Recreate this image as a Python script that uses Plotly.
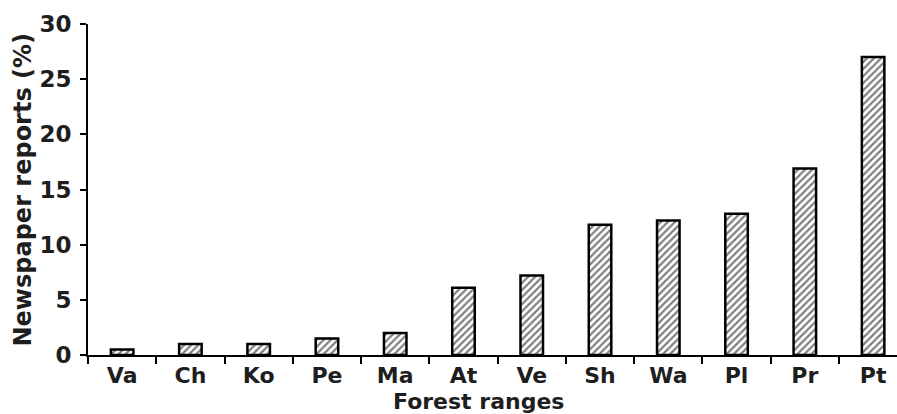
import plotly.graph_objects as go

categories = ["Va", "Ch", "Ko", "Pe", "Ma", "At", "Ve", "Sh", "Wa", "Pl", "Pr", "Pt"]
reports_pct = [0.5, 1.0, 1.0, 1.5, 2.0, 6.1, 7.2, 11.8, 12.2, 12.8, 16.9, 27.0]
y_ticks = [0, 5, 10, 15, 20, 25, 30]

FONT = "DejaVu Sans"
TXT = "#1e1e1e"
W, H = 897, 414
L, R, T, B = 88, 0, 24, 59

fig = go.Figure(go.Bar(
    x=categories, y=reports_pct, width=0.33,
    marker=dict(color="white",
                line=dict(color="black", width=2.5),
                pattern=dict(shape="/", fgcolor="black", bgcolor="white",
                             size=5, solidity=0.45)),
))

fig.update_layout(
    width=W, height=H,
    margin=dict(l=L, r=R, t=T, b=B, autoexpand=False),
    plot_bgcolor="white", paper_bgcolor="white",
    showlegend=False,
    font=dict(family=FONT, color=TXT, size=22, weight="bold"),
    xaxis=dict(range=[-0.5, 11.35], showline=True, linecolor="black", linewidth=2,
               ticks="outside", tickson="boundaries", ticklen=7, tickwidth=1.5,
               tickcolor="black", showgrid=False, zeroline=False,
               tickfont=dict(family=FONT, size=22, weight="bold", color=TXT),
               ticklabelstandoff=0),
    yaxis=dict(range=[0, 30], tickvals=y_ticks, showline=True, linecolor="black",
               linewidth=2, ticks="outside", ticklen=6, tickwidth=1.5, tickcolor="black",
               showgrid=False, zeroline=False,
               tickfont=dict(family=FONT, size=23, weight="bold", color=TXT),
               ticklabelstandoff=4),
    annotations=[
        dict(text="Forest ranges", xref="paper", yref="paper",
             x=(478 - L) / (W - L - R), y=(355 - 401) / (H - T - B),
             xanchor="center", yanchor="middle", showarrow=False,
             font=dict(family=FONT, size=22, weight="bold", color=TXT)),
        dict(text="Newspaper reports (%)", xref="paper", yref="paper",
             x=(22 - L) / (W - L - R), y=0.5, textangle=-90,
             xanchor="center", yanchor="middle", showarrow=False,
             font=dict(family=FONT, size=24, weight="bold", color=TXT)),
    ],
)

fig.write_html("out.html", config={"displayModeBar": False},
               post_script="document.body.style.margin='0';")
